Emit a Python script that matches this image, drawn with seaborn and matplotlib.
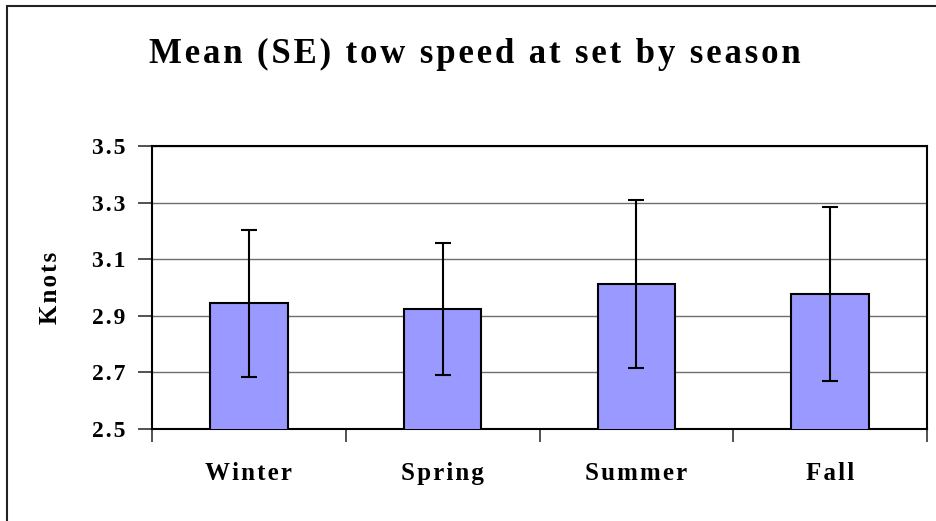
import numpy as np
import pandas as pd
import seaborn as sns
from matplotlib import pyplot as plt
from matplotlib.patches import Rectangle

seasons = ['Winter', 'Spring', 'Summer', 'Fall']
mean_speed = [2.944, 2.924, 3.012, 2.978]
se_speed = [0.260, 0.232, 0.297, 0.307]
y_ticks = [2.5, 2.7, 2.9, 3.1, 3.3, 3.5]


def spaced(text):
    # the original chart uses wide letter spacing, approximated with hair spaces
    return '\u200a'.join(text)


if __name__ == '__main__':
    sns.set_theme(style='white')
    plt.rcParams['font.family'] = ['Liberation Serif', 'DejaVu Serif']
    plt.rcParams['font.weight'] = 'bold'
    plt.rcParams['text.color'] = 'black'
    plt.rcParams['xtick.color'] = 'black'
    plt.rcParams['ytick.color'] = 'black'
    plt.rcParams['axes.labelcolor'] = 'black'

    df = pd.DataFrame({'season': seasons, 'knots': mean_speed})

    fig = plt.figure(figsize=(9.36, 5.21), dpi=100)
    ax = fig.add_axes([152 / 936, 1 - 429 / 521, 775 / 936, 283 / 521])

    sns.barplot(data=df, x='season', y='knots', color='#9999FF', width=0.4,
                edgecolor='black', linewidth=1.5, saturation=1,
                errorbar=None, ax=ax, zorder=3)
    ax.errorbar(np.arange(len(seasons)), mean_speed, yerr=se_speed, fmt='none',
                ecolor='black', elinewidth=1.5, capsize=5.5, capthick=1.5, zorder=4)

    ax.set_ylim(2.5, 3.5)
    ax.set_yticks(y_ticks)
    ax.set_yticklabels([spaced(f'{v:.1f}') for v in y_ticks], fontsize=17, fontweight='bold')
    ax.yaxis.grid(True, color='#6e6e6e', linewidth=1.0, zorder=0)
    ax.set_axisbelow(True)

    ax.set_xlim(-0.5, len(seasons) - 0.5)
    ax.set_xticks(np.arange(len(seasons) + 1) - 0.5)
    ax.set_xticklabels([])
    ax.set_xticks(np.arange(len(seasons)), minor=True)
    ax.set_xticklabels([spaced(s) for s in seasons], minor=True, fontsize=18, fontweight='bold')
    ax.tick_params(axis='x', which='major', direction='out', length=9, width=1.2,
                   color='#333333', bottom=True)
    ax.tick_params(axis='x', which='minor', length=0, pad=24)
    ax.tick_params(axis='y', direction='out', length=10, width=1.2,
                   color='#333333', left=True, pad=9)

    for s in ax.spines.values():
        s.set_color('black')
        s.set_linewidth(1.5)

    ax.set_xlabel('')
    ax.set_ylabel(spaced('Knots'), fontsize=18, fontweight='bold')
    ax.yaxis.set_label_coords(-0.116, 0.5)

    fig.text(475 / 936, 1 - 63 / 521, spaced('Mean (SE) tow speed at set by season'),
             ha='center', va='baseline', fontsize=25, fontweight='bold')

    # outer chart border (cut off at right and bottom)
    fig.patches.append(Rectangle((7 / 936, -0.1), 1.2, 1 - 6 / 521 + 0.1,
                                 transform=fig.transFigure, fill=False,
                                 edgecolor='#222222', linewidth=1.5))

    fig.savefig('out.png', dpi=100)
